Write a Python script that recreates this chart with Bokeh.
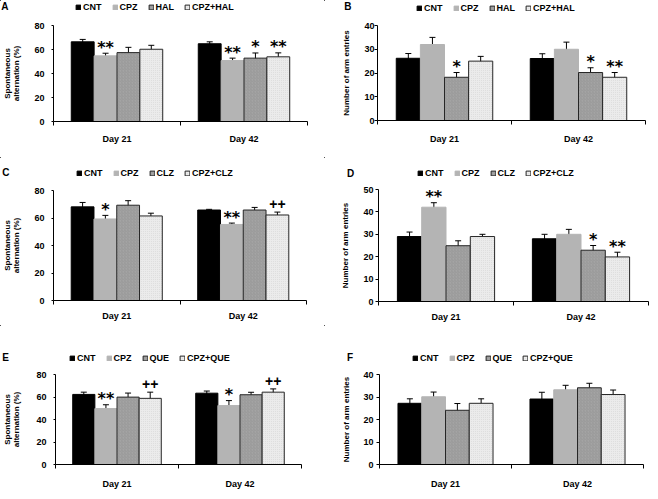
from bokeh.plotting import figure
from bokeh.layouts import column, row
from bokeh.models import (ColumnDataSource, Whisker, TeeHead, FixedTicker, Legend,
                          LegendItem, Label, Range1d)
from bokeh.core.properties import value
from bokeh.embed import file_html
from bokeh.resources import INLINE

# ---------------- data ----------------
days = ["Day 21", "Day 42"]

groups_A = ["CNT", "CPZ", "HAL", "CPZ+HAL"]
mean_A = [[66.4, 64.8], [54.7, 50.8], [57.4, 52.8], [60.2, 53.9]]
err_A = [[2.0, 1.6], [2.2, 2.0], [4.4, 4.3], [3.3, 3.3]]
marks_A = [["", ""], ["**", "**"], ["", "*"], ["", "**"]]

groups_B = ["CNT", "CPZ", "HAL", "CPZ+HAL"]
mean_B = [[26.2, 26.1], [32.0, 30.0], [18.2, 20.2], [25.0, 18.2]]
err_B = [[2.0, 2.0], [3.0, 3.0], [2.0, 2.0], [2.0, 2.0]]
marks_B = [["", ""], ["", ""], ["*", "*"], ["", "**"]]

groups_C = ["CNT", "CPZ", "CLZ", "CPZ+CLZ"]
mean_C = [[68.1, 65.8], [59.3, 55.3], [69.3, 65.8], [61.5, 62.2]]
err_C = [[3.2, 0.5], [2.6, 1.0], [3.3, 1.9], [2.0, 2.1]]
marks_C = [["", ""], ["*", "**"], ["", ""], ["", "++"]]

groups_D = ["CNT", "CPZ", "CLZ", "CPZ+CLZ"]
mean_D = [[29.0, 28.0], [42.1, 30.0], [24.9, 22.9], [29.0, 19.9]]
err_D = [[2.0, 2.0], [2.0, 2.2], [2.2, 2.1], [1.0, 2.1]]
marks_D = [["", ""], ["**", ""], ["", "*"], ["", "**"]]

groups_E = ["CNT", "CPZ", "QUE", "CPZ+QUE"]
mean_E = [[62.3, 63.4], [49.7, 52.4], [59.9, 62.0], [58.8, 64.3]]
err_E = [[2.0, 1.9], [3.4, 4.4], [3.6, 2.2], [5.5, 2.9]]
marks_E = [["", ""], ["**", "*"], ["", ""], ["++", "++"]]

groups_F = ["CNT", "CPZ", "QUE", "CPZ+QUE"]
mean_F = [[27.2, 29.1], [30.1, 33.2], [24.1, 34.1], [27.2, 31.1]]
err_F = [[2.0, 3.0], [2.1, 2.0], [3.0, 2.0], [2.0, 2.0]]
marks_F = [["", ""], ["", ""], ["", ""], ["", ""]]

ylabel_alt = "Spontaneous\nalternation (%)"
ylabel_arm = "Number of arm entries"

# ---------------- style ----------------
SX = 650 / 658
SY = 491 / 499
FONT = "Liberation Sans"
OFFSETS = [-0.27, -0.09, 0.09, 0.27]
BAR_W = 0.18
STYLES = [
    dict(fill_color="#000000", line_color="#000000"),
    dict(fill_color="#b4b4b4", line_color="#b4b4b4"),
    dict(fill_color="#a4a4a4", line_color="#262626", hatch_pattern="/",
         hatch_color="#8c8c8c", hatch_scale=3, hatch_weight=0.5),
    dict(fill_color="#ebebeb", line_color="#262626", hatch_pattern=".",
         hatch_color="#dadada", hatch_scale=2, hatch_weight=0.4),
]
MAIN_TOP = 6


def make_panel(letter, groups, means, errs, marks, ymax, ystep, ylabel,
               box, frame, letter_pos, legend_pos, yaxis_cfg, x_standoff):
    x0, y0, x1, y1 = box
    fl, ft, fr, fb = frame
    W = round(x1 * SX) - round(x0 * SX)
    H = round(y1 * SY) - round(y0 * SY)
    L = round((fl - x0) * SX)
    R = W - round((fr - x0) * SX)
    T = round((ft - y0) * SY)
    B = H - round((fb - y0) * SY)
    Hh = T - MAIN_TOP

    # ---- header strip: panel letter + legend (proxy bars kept outside its view) ----
    h = figure(width=W, height=Hh, x_range=Range1d(100, 101), y_range=Range1d(-200, -100),
               output_backend="svg", toolbar_location=None, min_border=0,
               x_axis_type=None, y_axis_type=None)
    h.frame_align = False
    h.outline_line_color = None
    h.grid.visible = False
    h.background_fill_color = "white"
    h.border_fill_color = "white"

    # ---- main chart ----
    p = figure(width=W, height=H - Hh, x_range=Range1d(0.5, len(days) + 0.5),
               y_range=Range1d(0, ymax), output_backend="svg",
               toolbar_location=None, min_border_left=L, min_border_right=R,
               min_border_top=MAIN_TOP, min_border_bottom=B)
    p.frame_align = False
    p.outline_line_color = None
    p.grid.visible = False
    p.background_fill_color = "white"
    p.border_fill_color = "white"

    items = []
    star = dict(x=[], y=[], t=[])
    plus = dict(x=[], y=[], t=[])
    for gi, g in enumerate(groups):
        xs = [di + 1 + OFFSETS[gi] for di in range(len(days))]
        up = [m + e for m, e in zip(means[gi], errs[gi])]
        lo = [m - e for m, e in zip(means[gi], errs[gi])]
        src = ColumnDataSource(dict(x=xs, top=means[gi], upper=up, lower=lo))
        p.vbar(x="x", top="top", width=BAR_W, bottom=0, source=src,
               line_width=1, **STYLES[gi])
        proxy = h.vbar(x="x", top="top", width=BAR_W, bottom=0, source=src,
                       line_width=1, **STYLES[gi])
        items.append(LegendItem(label=g, renderers=[proxy]))
        p.add_layout(Whisker(base="x", upper="upper", lower="lower", source=src,
                             line_color="black", line_width=1,
                             upper_head=TeeHead(size=6, line_color="black", line_width=1),
                             lower_head=TeeHead(size=6, line_color="black", line_width=1)))
        for di in range(len(days)):
            mk = marks[gi][di]
            if mk:
                d = star if "*" in mk else plus
                d["x"].append(xs[di])
                d["y"].append(up[di])
                d["t"].append(mk)
    if star["x"]:
        p.text(x="x", y="y", text="t", source=ColumnDataSource(star),
               text_font=value("DejaVu Sans"), text_font_style="bold",
               text_font_size="16px", text_align="center",
               text_baseline="alphabetic", text_color="black", y_offset=-6)
    if plus["x"]:
        p.text(x="x", y="y", text="t", source=ColumnDataSource(plus),
               text_font=value(FONT), text_font_style="bold",
               text_font_size="14px", text_align="center",
               text_baseline="alphabetic", text_color="black", y_offset=-8)

    # x axis: labels at category centres, ticks between categories
    xa = p.xaxis[0]
    xa.ticker = FixedTicker(ticks=[di + 1 for di in range(len(days))],
                            minor_ticks=[di + 0.5 for di in range(len(days) + 1)])
    xa.major_label_overrides = {di + 1: d for di, d in enumerate(days)}
    xa.major_tick_out = 0
    xa.major_tick_in = 0
    xa.minor_tick_out = 4
    xa.minor_tick_in = 0
    xa.minor_tick_line_color = "black"
    xa.axis_line_color = "black"
    xa.major_label_text_font = FONT
    xa.major_label_text_font_style = "bold"
    xa.major_label_text_font_size = "9px"
    xa.major_label_text_color = "black"
    xa.major_label_standoff = x_standoff

    # y axis
    tick_out, lbl_so, axl_so = yaxis_cfg
    ya = p.yaxis[0]
    ya.ticker = FixedTicker(ticks=list(range(0, ymax + 1, ystep)))
    ya.major_tick_out = tick_out
    ya.major_tick_in = 0
    ya.minor_tick_out = 0
    ya.minor_tick_in = 0
    ya.major_tick_line_color = "black"
    ya.axis_line_color = "black"
    ya.major_label_text_font = FONT
    ya.major_label_text_font_style = "bold"
    ya.major_label_text_font_size = "9px"
    ya.major_label_text_color = "black"
    ya.major_label_standoff = lbl_so
    ya.axis_label = ylabel
    ya.axis_label_text_font = FONT
    ya.axis_label_text_font_style = "bold"
    ya.axis_label_text_font_size = "8px"
    ya.axis_label_text_color = "black"
    ya.axis_label_text_line_height = 1.0
    ya.axis_label_standoff = axl_so

    # legend in header
    gx, gy = legend_pos
    leg = Legend(items=items,
                 location=(round((gx - x0) * SX), round(Hh - (gy - y0) * SY - 5.5)),
                 orientation="horizontal", glyph_width=6, glyph_height=6,
                 label_standoff=2, spacing=10, padding=0, margin=0,
                 border_line_color=None, background_fill_alpha=0,
                 label_text_font=FONT, label_text_font_style="bold",
                 label_text_font_size="9px", label_text_color="black",
                 label_height=11, label_width=0)
    h.add_layout(leg)

    lx, ly = letter_pos
    h.add_layout(Label(x=(lx - x0) * SX, y=Hh - (ly - y0) * SY, x_units="screen",
                       y_units="screen", text=letter, text_font=FONT,
                       text_font_style="bold", text_font_size="10px",
                       text_baseline="middle", text_align="left", text_color="black"))
    return column(h, p)


pA = make_panel("A", groups_A, mean_A, err_A, marks_A, 80, 20, ylabel_alt,
                (0, 0, 328, 160), (48.3, 25, 311, 123), (0.7, 6.3), (76, 7.0), (2, 7, 10), 8)
pB = make_panel("B", groups_B, mean_B, err_B, marks_B, 40, 10, ylabel_arm,
                (328, 0, 658, 160), (381.3, 25, 653, 122.3), (348, 6.3), (421.3, 7.8), (3, 0, 10), 9)
pC = make_panel("C", groups_C, mean_C, err_C, marks_C, 80, 20, ylabel_alt,
                (0, 160, 328, 330), (48.3, 193.3, 310, 305.7), (1.7, 175.5), (77.3, 175.5), (2, 7, 10), 6)
pD = make_panel("D", groups_D, mean_D, err_D, marks_D, 50, 10, ylabel_arm,
                (328, 160, 658, 330), (383, 192.3, 656, 306), (350.7, 176), (422, 175.5), (3, 2, 10), 6)
pE = make_panel("E", groups_E, mean_E, err_E, marks_E, 80, 20, ylabel_alt,
                (0, 330, 328, 499), (48.3, 380, 304.3, 476.7), (1.7, 363), (70, 363), (2, 7, 12), 10)
pF = make_panel("F", groups_F, mean_F, err_F, marks_F, 40, 10, ylabel_arm,
                (328, 330, 658, 499), (384, 380, 651, 475.7), (350.7, 362.5), (417.3, 363), (3, 3, 9), 10)

layout = column(row(pA, pB), row(pC, pD), row(pE, pF))
open("out.html", "w").write(file_html(layout, INLINE))
